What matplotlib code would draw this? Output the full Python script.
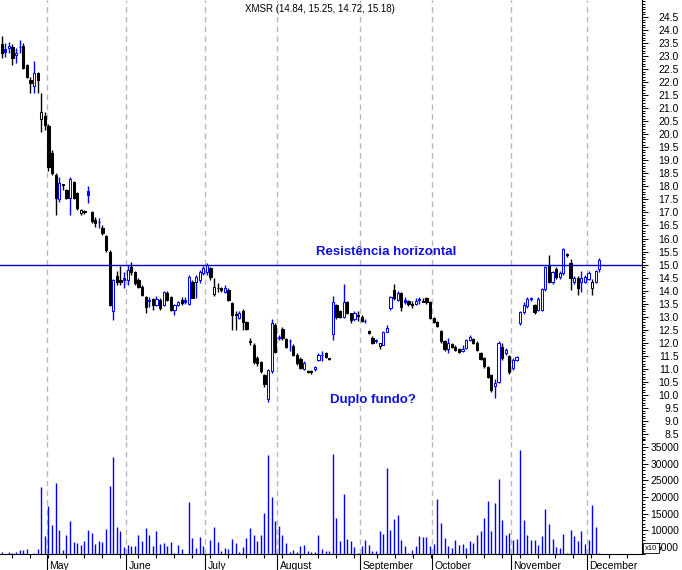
import numpy as np
import matplotlib.pyplot as plt
from matplotlib.patches import Rectangle
from matplotlib.ticker import FixedLocator, MultipleLocator, FormatStrFormatter

plt.rcParams['font.family'] = ['Liberation Sans', 'DejaVu Sans']

# Dati
titolo = 'XMSR (14.84, 15.25, 14.72, 15.18)'
aperture = [23.46, 23.27, 23.31, 23.35, 23.05, 23.33, 23.39, 22.66, 22.08, 21.85,
            22.35, 20.59, 20.70, 20.32, 19.27, 18.44, 17.52, 18.08, 17.86, 17.56,
            18.17, 17.75, 16.98, 17.05, 17.83, 17.02, 16.70, 16.62, 16.40, 16.10,
            15.50, 13.20, 14.55, 14.40, 14.50, 14.41, 14.90, 14.72, 14.41, 14.14,
            13.76, 13.60, 13.68, 13.45, 13.64, 13.45, 13.91, 13.76, 13.26, 13.45,
            13.64, 13.66, 13.48, 14.35, 14.35, 14.40, 14.67, 14.72, 14.86, 13.86,
            14.10, 14.10, 13.94, 14.03, 13.51, 13.10, 12.94, 13.20, 12.80, 12.05,
            11.90, 11.40, 11.25, 10.75, 9.85, 10.90, 12.68, 12.20, 12.53, 12.13,
            12.05, 11.88, 11.53, 11.37, 10.98, 10.90, 10.90, 10.98, 11.34, 11.53,
            11.60, 11.40, 12.34, 13.45, 13.20, 13.00, 13.58, 13.13, 12.90, 13.05,
            13.00, 12.84, 12.45, 12.20, 12.05, 11.88, 11.92, 12.43, 13.32, 14.03,
            13.64, 13.90, 13.66, 13.59, 13.50, 13.50, 13.68, 13.62, 13.70, 13.55,
            12.95, 12.80, 12.45, 12.05, 11.76, 11.95, 11.85, 11.76, 11.70, 11.80,
            12.10, 12.14, 12.00, 11.60, 11.40, 11.07, 10.77, 10.35, 10.50, 11.85,
            11.62, 11.50, 11.03, 11.34, 12.75, 13.18, 13.40, 13.68, 13.45, 13.26,
            13.26, 14.07, 15.00, 14.33, 14.83, 14.52, 14.68, 15.40, 15.06, 14.33,
            14.49, 14.35, 14.35, 14.45, 14.10, 14.35, 14.84]
massimi = [23.77, 23.50, 23.55, 23.45, 23.31, 23.62, 23.50, 22.70, 22.20, 22.80,
           22.40, 21.60, 20.86, 20.40, 19.40, 18.50, 18.37, 18.10, 17.90, 18.35,
           18.20, 17.80, 17.15, 17.10, 18.00, 17.05, 16.84, 16.80, 16.50, 16.15,
           15.56, 14.45, 14.75, 14.95, 14.70, 14.98, 15.10, 14.75, 14.50, 14.20,
           13.80, 13.76, 13.72, 13.80, 13.70, 14.00, 14.00, 13.80, 13.50, 13.60,
           13.75, 13.75, 14.60, 14.40, 14.60, 14.80, 14.95, 15.05, 14.90, 14.50,
           14.30, 14.15, 14.20, 14.10, 13.55, 13.20, 13.20, 13.30, 12.85, 12.20,
           12.00, 11.50, 11.30, 10.80, 11.00, 12.90, 12.75, 12.30, 12.60, 12.20,
           12.15, 11.95, 11.60, 11.45, 11.30, 10.95, 10.95, 11.10, 11.60, 11.70,
           11.65, 11.42, 13.78, 13.50, 13.26, 14.26, 13.60, 13.15, 13.20, 13.20,
           13.05, 12.90, 12.50, 12.25, 12.15, 12.00, 12.45, 12.70, 13.80, 14.25,
           14.00, 13.95, 13.75, 13.65, 13.60, 13.70, 13.75, 13.70, 13.75, 13.60,
           13.00, 12.85, 12.50, 12.10, 12.18, 12.00, 11.90, 11.80, 11.90, 12.15,
           12.30, 12.20, 12.05, 11.65, 11.45, 11.10, 10.80, 10.60, 12.05, 12.00,
           11.80, 11.55, 11.40, 11.50, 13.20, 13.55, 13.75, 13.75, 13.50, 13.75,
           14.10, 14.95, 15.37, 14.75, 14.90, 14.75, 15.65, 15.45, 15.20, 14.55,
           14.55, 14.75, 14.60, 14.75, 14.45, 14.80, 15.25]
minimi = [22.93, 22.95, 23.12, 22.66, 22.74, 23.12, 22.50, 22.15, 21.59, 21.59,
          21.59, 20.10, 20.17, 18.60, 18.44, 16.90, 17.40, 17.86, 17.50, 16.90,
          17.50, 17.10, 16.90, 16.95, 17.36, 16.60, 16.45, 16.40, 16.15, 15.50,
          13.40, 12.87, 14.20, 14.20, 14.10, 14.20, 14.60, 14.20, 14.10, 13.80,
          13.14, 13.37, 13.26, 13.40, 13.26, 13.40, 13.60, 13.20, 13.05, 13.40,
          13.45, 13.50, 13.45, 13.70, 13.70, 14.30, 14.60, 14.60, 14.40, 13.80,
          13.95, 13.95, 13.90, 13.60, 12.50, 12.50, 12.90, 12.50, 12.50, 11.90,
          11.20, 11.10, 10.85, 10.30, 9.74, 10.85, 11.60, 12.10, 12.10, 11.80,
          11.70, 11.50, 11.15, 11.00, 10.95, 10.85, 10.80, 10.90, 11.30, 11.30,
          11.40, 11.35, 12.11, 12.90, 12.95, 12.95, 13.10, 12.75, 12.85, 12.85,
          12.80, 12.75, 12.35, 11.95, 12.00, 11.75, 11.90, 12.40, 13.25, 13.65,
          13.60, 13.20, 13.50, 13.40, 13.35, 13.45, 13.50, 13.55, 13.50, 12.90,
          12.75, 12.60, 12.00, 11.70, 11.60, 11.80, 11.70, 11.60, 11.65, 11.75,
          12.05, 11.95, 11.70, 11.35, 11.05, 10.65, 10.10, 9.90, 10.45, 11.35,
          11.55, 10.80, 10.95, 11.30, 12.70, 13.10, 13.35, 13.60, 13.10, 13.20,
          13.20, 14.00, 14.30, 14.25, 14.45, 14.45, 14.60, 15.30, 14.03, 14.25,
          13.83, 13.95, 14.30, 14.40, 13.83, 14.30, 14.72]
chiusure = [23.12, 23.16, 23.39, 22.93, 23.12, 23.35, 22.55, 22.20, 21.97, 22.35,
            22.08, 20.86, 20.36, 18.75, 18.50, 17.55, 18.13, 18.05, 17.56, 18.28,
            17.56, 17.17, 17.10, 17.02, 17.67, 16.67, 16.58, 16.65, 16.20, 15.56,
            13.45, 14.41, 14.35, 14.33, 14.41, 14.79, 14.72, 14.30, 14.14, 13.83,
            13.37, 13.64, 13.45, 13.68, 13.33, 13.95, 13.64, 13.26, 13.45, 13.56,
            13.53, 13.55, 14.54, 13.73, 14.54, 14.72, 14.87, 14.98, 14.54, 14.15,
            14.09, 14.02, 14.11, 13.64, 13.07, 13.05, 13.13, 12.81, 12.53, 12.03,
            11.25, 11.22, 10.90, 10.40, 10.95, 12.75, 11.66, 12.23, 12.20, 11.85,
            12.08, 11.53, 11.21, 11.02, 11.21, 10.89, 10.87, 11.07, 11.53, 11.55,
            11.45, 11.38, 13.58, 13.00, 12.98, 13.58, 13.13, 12.87, 13.13, 13.03,
            12.83, 12.85, 12.37, 12.00, 12.10, 11.98, 12.43, 12.57, 13.77, 13.71,
            13.92, 13.38, 13.55, 13.49, 13.45, 13.62, 13.63, 13.58, 13.56, 12.95,
            12.80, 12.65, 12.05, 11.75, 11.98, 11.85, 11.73, 11.65, 11.78, 12.10,
            12.22, 12.00, 11.72, 11.38, 11.10, 10.70, 10.19, 10.45, 12.00, 11.42,
            11.72, 10.88, 11.34, 11.45, 13.18, 13.45, 13.68, 13.70, 13.18, 13.68,
            14.07, 14.90, 14.33, 14.70, 14.52, 14.68, 15.60, 15.37, 14.49, 14.50,
            14.10, 14.50, 14.52, 14.68, 14.33, 14.76, 15.18]
volumi = [3600, 3000, 3500, 3300, 3600, 4100, 4100, 4500, 3000, 3300,
          4500, 23100, 8300, 17300, 11600, 24300, 10000, 4100, 8600, 12900,
          6600, 6100, 5600, 6900, 10100, 9300, 5900, 6900, 6600, 10500,
          23300, 32100, 11100, 9900, 5100, 5600, 5300, 5300, 8600, 6900,
          10700, 8600, 5300, 9800, 5900, 6300, 5300, 6500, 3100, 5600,
          4500, 3000, 18600, 7700, 4800, 8100, 5300, 3000, 7100, 11100,
          6500, 3900, 4800, 4500, 7500, 6300, 3500, 5100, 7800, 10700,
          8700, 6800, 8700, 15300, 32600, 20100, 12900, 11300, 8700, 6300,
          3600, 4100, 3600, 5300, 5600, 3900, 3500, 3500, 8700, 4400,
          3800, 3800, 32900, 13700, 6900, 20900, 7400, 6900, 5100, 3300,
          5300, 7100, 5600, 3900, 3900, 9900, 8900, 28800, 10100, 13400,
          14600, 7100, 5300, 3300, 4100, 5300, 8300, 8000, 8000, 5300,
          5900, 19400, 12100, 7700, 5300, 4700, 7100, 5600, 5900, 4700,
          6800, 6200, 8600, 9800, 13700, 18800, 9800, 18200, 25400, 13100,
          8600, 9200, 7100, 7400, 34100, 13100, 8600, 7100, 7100, 5600,
          8300, 16400, 11900, 7400, 5000, 4700, 8900, 3300, 10100, 8300,
          6800, 9800, 5900, 7100, 17600, 11000, 3300]
mesi = ['May', 'June', 'July', 'August', 'September', 'October', 'November', 'December']
primo_giorno_mese = [13, 35, 57, 77, 100, 120, 142, 163]
resistenza = 15.0

BLU = '#0000ff'
NERO = '#000000'
GRIGIO = '#b8b8b8'
W, H = 682, 570


def fig_xy(x, y):
    # pixel -> coordinate figura
    return x / W, 1 - y / H


fig = plt.figure(figsize=(W / 100, H / 100), dpi=100)
ax = fig.add_axes([0, 130 / H, 642 / W, 440 / H])
axv = fig.add_axes([0, 16 / H, 642 / W, 114 / H], sharex=ax)

n = len(chiusure)
idx = np.arange(n)

# Candele
for i in idx:
    o, h, l, c = aperture[i], massimi[i], minimi[i], chiusure[i]
    prev = chiusure[i - 1] if i > 0 else o
    col = BLU if c >= prev else NERO
    ax.vlines(i, l, h, color=col, lw=1, zorder=2)
    pieno = c < o
    ax.add_patch(Rectangle((i - 0.3, min(o, c)), 0.6, abs(c - o),
                           facecolor=col if pieno else 'white',
                           edgecolor=col, lw=0.75, zorder=3))

# Resistenza
ax.axhline(resistenza, color='#0000cc', lw=1, zorder=4)

# Volumi
axv.set_ylim(2900, 37100)
axv.vlines(idx, axv.get_ylim()[0], volumi, color=BLU, lw=1)

# Griglia mensile
for d in primo_giorno_mese:
    for a in (ax, axv):
        a.axvline(d - 0.5, color=GRIGIO, lw=1, ls=(0, (4, 3)), zorder=1)

ax.set_xlim(-0.47, 177.86)
ax.set_ylim(8.27, 25.15)

for a in (ax, axv):
    for s in ('left', 'top'):
        a.spines[s].set_visible(False)
    a.spines['right'].set_linewidth(0.8)
ax.spines['bottom'].set_visible(False)
axv.spines['bottom'].set_linewidth(0.8)

# Asse prezzi
ax.yaxis.tick_right()
ax.yaxis.set_major_locator(FixedLocator(np.arange(8.5, 24.51, 0.5)))
ax.yaxis.set_minor_locator(MultipleLocator(0.1))
ax.yaxis.set_major_formatter(FormatStrFormatter('%.1f'))
ax.tick_params(axis='y', which='major', length=4.3, width=0.7, pad=22.3, labelsize=7.5)
ax.tick_params(axis='y', which='minor', length=2.2, width=0.7)
ax.tick_params(axis='x', which='both', bottom=False, labelbottom=False)
plt.setp(ax.get_yticklabels(), ha='right')

# Asse volumi
axv.yaxis.tick_right()
axv.yaxis.set_major_locator(FixedLocator(np.arange(5000, 35001, 5000)))
axv.yaxis.set_minor_locator(MultipleLocator(1000))
axv.yaxis.set_major_formatter(FormatStrFormatter('%d'))
axv.tick_params(axis='y', which='major', length=4.3, width=0.7, pad=22.3, labelsize=7.5)
axv.tick_params(axis='y', which='minor', length=2.2, width=0.7)
plt.setp(axv.get_yticklabels(), ha='right')

# Asse date
axv.xaxis.set_major_locator(FixedLocator([d - 0.5 for d in primo_giorno_mese]))
axv.xaxis.set_minor_locator(FixedLocator(np.r_[np.arange(2.9, 99, 5), np.arange(104.3, 178, 4.95)]))
axv.tick_params(axis='x', which='major', length=11.5, width=0.8, labelbottom=False)
axv.tick_params(axis='x', which='minor', length=2.9, width=0.8)
for d, m in zip(primo_giorno_mese, mesi):
    axv.text(d + 0.2, -0.105, m, transform=axv.get_xaxis_transform(),
             ha='left', va='center', fontsize=7.5)

# Testi
fig.text(*fig_xy(320, 9), titolo, ha='center', va='center', fontsize=7)
fig.text(*fig_xy(316, 252), 'Resistência horizontal', ha='left', va='center',
         fontsize=9.5, fontweight='bold', color='#1010e0')
fig.text(*fig_xy(330, 400), 'Duplo fundo?', ha='left', va='center',
         fontsize=9.5, fontweight='bold', color='#1010e0')
fig.text(*fig_xy(645, 548), 'x10', ha='left', va='center', fontsize=5.5,
         bbox=dict(facecolor='white', edgecolor='black', lw=0.6, pad=1.2))

fig.savefig('out.png', dpi=100)
